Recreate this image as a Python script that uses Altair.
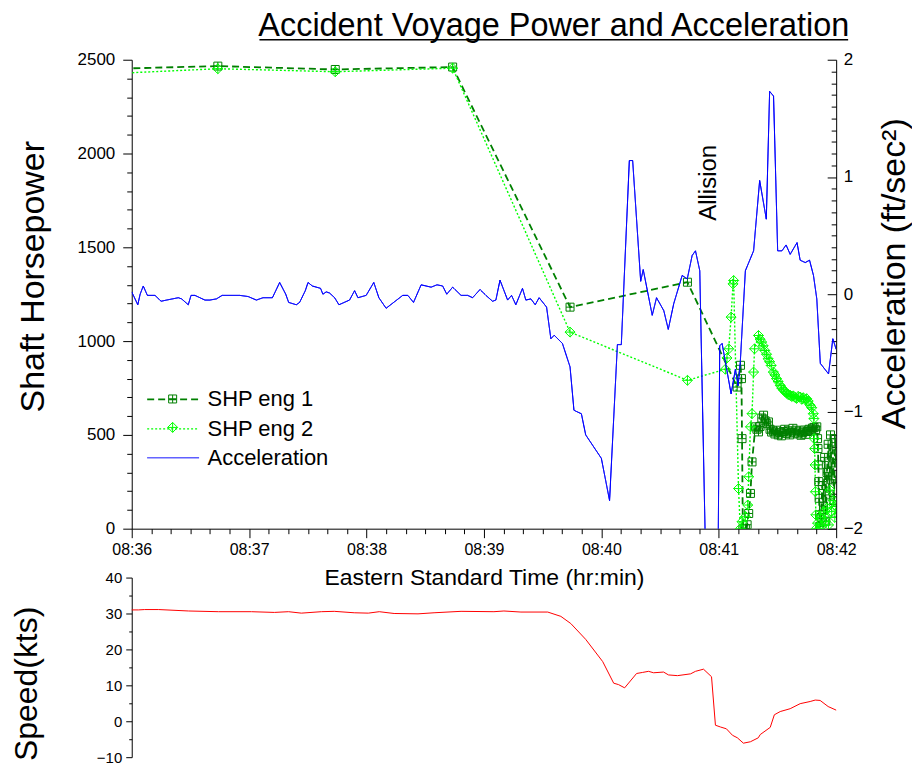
import altair as alt
import pandas as pd

FONT = "Liberation Sans"

# ---- data (time in seconds after 08:36:00) ----
shp1_t = [-16, 44, 104, 164, 224, 284, 309.4, 311.1, 311.6, 311.9, 312.3, 313.6, 314.5, 315.3, 316.2,
          317.0, 318.7, 319.5, 320.3, 321.1, 322.0, 322.9, 323.7, 324.5, 325.4, 326.2, 327.0, 327.9,
          328.7, 329.5, 330.4, 331.2, 332.0, 332.9, 333.7, 334.5, 335.4, 336.2, 337.0, 337.9, 338.7,
          339.5, 340.4, 341.2, 342.0, 342.9, 343.7, 344.5, 345.4, 346.2, 347.0, 347.9, 348.7, 349.5,
          350.1, 350.5, 350.7, 350.9, 351.1, 351.3, 351.5, 351.7, 352.3, 352.9, 353.5, 354.1, 354.7,
          355.3, 355.9, 356.5, 357.1, 357.7, 358.3, 358.9, 359.5, 359.9]
shp1_v = [2450, 2466, 2448, 2461, 1181, 1314, 755, 871, 800, 480, 0, 0, 21, 81, 188,
          356, 543, 530, 516, 545, 590, 605, 575, 560, 569, 530, 515, 520,
          505, 525, 500, 512, 495, 518, 530, 508, 522, 500, 515, 535, 510,
          525, 505, 520, 498, 512, 526, 503, 518, 530, 522, 536, 540, 528,
          543, 480, 427, 340, 251, 162, 74, 12, 60, 230, 120, 380, 40,
          300, 450, 180, 500, 260, 420, 150, 480, 350]

shp2_t = [-16, 44, 104, 164, 224, 284, 303.4, 304.2, 305.1, 306.3, 307.3, 307.6, 310.1, 311.0, 311.9,
          313.6, 314.8, 315.3, 316.2, 317.0, 317.8, 318.3, 320.3, 321.1, 321.9, 322.7, 323.5, 324.4,
          325.2, 326.0, 326.8, 327.9, 328.7, 329.5, 330.3, 331.4, 332.2, 333.0, 333.9, 334.7, 335.5,
          336.5, 337.3, 338.1, 339.0, 339.8, 340.6, 341.6, 342.4, 343.2, 344.1, 344.9, 345.7, 346.7,
          347.5, 348.3, 348.6, 348.8, 349.0, 349.2, 349.4, 349.6, 349.8, 350.5, 351.3, 352.1, 352.9,
          353.7, 354.5, 355.3, 356.1, 356.9, 357.7, 358.5, 359.3, 359.9]
shp2_v = [2423, 2452, 2436, 2455, 1048, 791, 850, 910, 959, 1128, 1305, 1323, 214, 0, 37,
          64, 126, 277, 543, 613, 835, 959, 1030, 1010, 995, 975, 950, 930,
          906, 890, 870, 835, 820, 800, 785, 764, 750, 740, 730, 722, 715,
          711, 705, 708, 700, 695, 705, 702, 690, 698, 688, 693, 680, 658,
          645, 613, 587, 480, 427, 340, 197, 74, 0, 30, 0, 60, 15,
          90, 40, 110, 20, 206, 91, 150, 60, 120]

acc_t = [0, 3.1, 4.3, 5.9, 8.0, 11.9, 15.0, 17.8, 23.8, 25.5, 28.9, 30.3, 32.3, 37.4, 39.9, 43.3,
         46.2, 55.2, 59.5, 63.7, 67.1, 71.9, 75.6, 78.7, 80.2, 84.1, 85.8, 88.7, 90.1, 92.3, 96.5,
         97.7, 99.4, 101.1, 103.7, 105.9, 111.3, 113.9, 115.6, 119.8, 123.7, 126.3, 130.0, 138.5,
         141.1, 144.0, 147.9, 153.0, 156.0, 158.9, 161.0, 164.0, 168.3, 171.7, 174.2, 178.0, 181.0,
         184.4, 186.1, 188.2, 192.1, 194.1, 196.3, 199.7, 201.4, 204.0, 206.2, 208.2, 212.0, 214.2,
         215.9, 220.1, 224.0, 226.0, 229.8, 232.0, 240.0, 244.2, 248.2, 250.2, 254.3, 256.0, 260.1,
         261.4, 266.0, 268.2, 271.9, 274.2, 277.0, 281.3, 283.9, 286.4, 288.1, 290.3, 294.2, 299.3,
         300.5, 301.7, 306.3, 308.5, 309.9, 311.0, 313.6, 317.8, 320.9, 324.3, 326.0, 328.0, 330.1,
         332.3, 334.4, 336.5, 340.0, 341.6, 344.2, 346.4, 348.4, 350.1, 351.9, 356.1, 358.3, 360.0]
acc_v = [0.02, -0.09, 0.0, 0.07, -0.01, -0.01, -0.06, -0.05, -0.03, -0.04, -0.09, -0.01, -0.01,
         -0.05, -0.05, -0.04, -0.01, -0.01, -0.02, -0.05, -0.03, -0.03, 0.10, 0.0, -0.07, -0.09,
         -0.07, 0.03, 0.10, 0.07, 0.05, 0.0, 0.02, 0.01, -0.03, -0.09, -0.05, 0.03, -0.03, -0.01,
         0.10, -0.03, -0.12, -0.01, -0.01, -0.07, 0.08, 0.06, 0.08, 0.07, 0.0, 0.06, -0.01, -0.01,
         -0.03, 0.04, -0.01, -0.06, -0.05, 0.12, -0.05, -0.01, -0.09, 0.05, -0.05, -0.04, -0.09,
         -0.03, -0.11, -0.38, -0.35, -0.42, -0.62, -0.99, -1.02, -1.20, -1.40, -1.76, -0.43, -0.43,
         1.14, 1.14, 0.11, 0.21, -0.18, -0.03, -0.14, -0.30, -0.08, 0.16, 0.13, 0.33, 0.37, 0.20,
         -3.0, -3.0, -0.44, -0.42, -0.85, -0.64, -0.78, -0.58, 0.20, 0.37, 0.97, 0.64, 1.73, 1.69,
         0.37, 0.37, 0.42, 0.34, 0.44, 0.29, 0.27, 0.29, 0.16, -0.04, -0.59, -0.68, -0.38, -0.47]

spd_t = [0, 3.4, 6.6, 13.8, 29.1, 44.4, 61.2, 72.9, 80.1, 86.7, 96.9, 103.5, 113.7, 120.9, 126.5,
         134.1, 146.3, 154.5, 168.3, 185.1, 190.2, 198.9, 212.6, 219.3, 224.4, 232.0, 240.7, 246.3,
         248.8, 251.9, 258.0, 261.1, 264.1, 266.7, 271.8, 274.3, 278.9, 285.6, 288.1, 292.2, 296.3,
         298.3, 300.9, 303.9, 307.0, 309.5, 312.6, 316.2, 320.2, 321.2, 326.3, 328.4, 331.4, 336.5,
         341.6, 346.7, 349.3, 351.8, 355.9, 360.0]
spd_v = [31.0, 31.0, 31.1, 31.1, 30.7, 30.5, 30.5, 30.3, 30.5, 30.1, 30.5, 30.6, 30.2, 30.1, 30.5,
         30.0, 29.9, 30.2, 30.6, 30.5, 30.7, 30.4, 30.4, 29.2, 27.2, 22.8, 16.6, 10.6,
         10.2, 9.3, 13.3, 13.6, 13.9, 13.5, 13.7, 12.9, 12.7, 13.2, 13.9, 14.5, 12.4,
         -1.1, -1.6, -2.1, -3.9, -4.6, -6.1, -5.7, -4.6, -3.7, -1.7, 1.8, 2.7, 3.5,
         4.9, 5.5, 5.9, 5.8, 4.1, 3.1]

series = ["SHP eng 1", "SHP eng 2", "Acceleration"]
series_colors = ["#008000", "#00FF00", "#0000FF"]
series_dash = [[7, 4], [2, 2], [1, 0]]
series_width = [1.8, 1.0, 2.2]
marker_paths = ["M-0.8,-0.8H0.8V0.8H-0.8ZM0,-0.8V0.8M-0.8,0H0.8",
                "M0,-1L1,0L0,1L-1,0ZM0,-1V1M-1,0H1"]
legend_line_path = "M-2.5,0H2.5"

ann_label = ["Allision"]
ann_t = [295.2]
ann_v = [0.95]

x_ticks = list(range(0, 361, 10))
shp_ticks = list(range(0, 2501, 100))
acc_ticks = [round(-2 + 0.1 * i, 1) for i in range(41)]
acc_labels = [-2, -1, 0, 1, 2]
spd_ticks = list(range(-10, 41, 5))

# ---- tables ----
shp_df = pd.DataFrame({
    "t": shp1_t + shp2_t,
    "v": shp1_v + shp2_v,
    "series": [series[0]] * len(shp1_t) + [series[1]] * len(shp2_t),
})
acc_df = pd.DataFrame({"t": acc_t, "v": acc_v, "series": series[2]})
spd_df = pd.DataFrame({"t": spd_t, "v": spd_v})
ann_df = pd.DataFrame({"t": ann_t, "v": ann_v, "label": ann_label})

W, H = 706, 470
SH = 180


def cond_size(test, big, small):
    return {"condition": {"test": test, "value": big}, "value": small}


x_axis = alt.Axis(
    values=x_ticks,
    labelExpr="datum.value % 60 === 0 ? '08:' + (36 + datum.value / 60) : ''",
    tickSize=cond_size("datum.value % 60 === 0", 9, 5),
    labelFontSize=16, labelPadding=4, labelFlush=False, labelOverlap=False,
    title="Eastern Standard Time (hr:min)", titleFontSize=23, titlePadding=9,
)
x_scale = alt.Scale(domain=[0, 360], nice=False, zero=False)
x_enc = alt.X("t:Q", scale=x_scale, axis=x_axis)

leg_line = dict(orient="none", legendX=30, legendY=329, title=None, padding=0,
                labelFontSize=22, symbolType=legend_line_path, symbolSize=433,
                symbolStrokeWidth=1.5, labelOffset=23, rowPadding=6.5)
leg_mark = dict(orient="none", legendX=30, legendY=329, title=None, padding=0,
                labelFontSize=22, labelExpr="' '", symbolSize=100,
                symbolStrokeWidth=1, labelOffset=8, rowPadding=6.5)

color_enc = alt.Color("series:N", scale=alt.Scale(domain=series, range=series_colors),
                      legend=alt.Legend(**leg_line))
dash_enc = alt.StrokeDash("series:N", scale=alt.Scale(domain=series, range=series_dash),
                          legend=alt.Legend(**leg_line))
sw_enc = alt.StrokeWidth("series:N", scale=alt.Scale(domain=series, range=series_width),
                         legend=None)

shp_y = alt.Y(
    "v:Q", scale=alt.Scale(domain=[0, 2500], nice=False, zero=False),
    axis=alt.Axis(orient="left", values=shp_ticks, format="d",
                  labelExpr="datum.value % 500 === 0 ? datum.label : ''",
                  tickSize=cond_size("datum.value % 500 === 0", 9, 5),
                  labelFontSize=17, labelPadding=8, labelOverlap=False,
                  title="Shaft Horsepower", titleFontSize=34, titlePadding=27, titleY=217),
)

shp_line = alt.Chart(shp_df).mark_line(clip=True).encode(
    x=x_enc, y=shp_y, color=color_enc, strokeDash=dash_enc, strokeWidth=sw_enc,
    detail="series:N",
)
shp_pts = alt.Chart(shp_df).mark_point(filled=False, size=100, strokeWidth=1, opacity=1,
                                       clip=True).encode(
    x=x_enc, y=shp_y,
    shape=alt.Shape("series:N", scale=alt.Scale(domain=series[:2], range=marker_paths),
                    legend=alt.Legend(**leg_mark)),
    stroke=alt.Stroke("series:N", scale=alt.Scale(domain=series[:2], range=series_colors[:2]),
                      legend=alt.Legend(**leg_mark)),
)
underline = alt.Chart(pd.DataFrame({"u": [0]})).mark_rule(color="black", strokeWidth=1.5).encode(
    x=alt.value(128), x2=alt.value(718), y=alt.value(-20)
)

acc_scale = alt.Scale(domain=[-2, 2], nice=False, zero=False)
acc_tick_axis = alt.Axis(orient="left", offset=-W, values=acc_ticks, labels=False,
                         tickSize=cond_size("abs(datum.value - round(datum.value)) < 0.001", 9, 5),
                         title="", domain=True)
acc_lab_axis = alt.Axis(orient="right", values=acc_labels, ticks=False, tickSize=0, domain=False,
                        labelPadding=7, format="d", labelFontSize=17,
                        title="Acceleration (ft/sec²)", titleFontSize=34, titlePadding=15,
                        titleAngle=270, titleBaseline="top", titleAlign="center", titleY=214)

acc_line1 = alt.Chart(acc_df).mark_line(clip=True).encode(
    x=x_enc, y=alt.Y("v:Q", scale=acc_scale, axis=acc_tick_axis),
    color=color_enc, strokeDash=dash_enc, strokeWidth=sw_enc,
)
acc_line2 = alt.Chart(acc_df).mark_line(clip=True).encode(
    x=x_enc, y=alt.Y("v:Q", scale=acc_scale, axis=acc_lab_axis),
    color=color_enc, strokeDash=dash_enc, strokeWidth=sw_enc,
)
allision = alt.Chart(ann_df).mark_text(angle=270, fontSize=24, font=FONT, align="center",
                                       baseline="middle", color="black").encode(
    x=x_enc, y=alt.Y("v:Q", scale=acc_scale, axis=None), text="label:N"
)

shp_group = alt.layer(shp_line, shp_pts, underline)
acc_group = alt.layer(acc_line1, acc_line2, allision).resolve_axis(y="independent")

main = alt.layer(shp_group, acc_group).resolve_scale(y="independent").properties(
    width=W, height=H,
    title=alt.Title("Accident Voyage Power and Acceleration", fontSize=32.5, fontWeight="normal",
                    anchor="middle", dx=70, offset=-3),
)

speed = alt.Chart(spd_df).mark_line(color="#FF0000", strokeWidth=1).encode(
    x=alt.X("t:Q", scale=x_scale, axis=None),
    y=alt.Y("v:Q", scale=alt.Scale(domain=[-10, 40], nice=False, zero=False),
            axis=alt.Axis(values=spd_ticks,
                          labelExpr="datum.value % 10 === 0 ? datum.label : ''",
                          tickSize=cond_size("datum.value % 10 === 0", 6, 3),
                          labelFontSize=15, labelPadding=4, labelOverlap=False,
                          title="Speed(kts)", titleFontSize=32, titlePadding=53, titleY=106)),
).properties(width=W, height=SH)

chart = alt.vconcat(main, speed, spacing=49, bounds="flush").configure_view(
    strokeWidth=0
).configure_axis(
    grid=False, labelFont=FONT, titleFont=FONT, labelColor="black", titleColor="black",
    domainColor="black", tickColor="black", titleFontWeight="normal",
    domainWidth=1, tickWidth=1,
).configure_title(font=FONT, color="black").configure_legend(
    labelFont=FONT, labelColor="black"
).properties(padding={"left": 2, "top": 0, "right": 0, "bottom": 0})

chart.save("out.html", embed_options={"renderer": "svg", "actions": False})
